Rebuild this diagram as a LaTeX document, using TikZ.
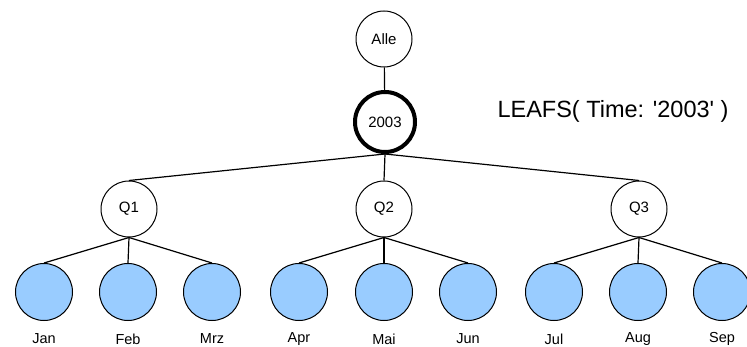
\documentclass[tikz,border=0pt]{standalone}
\usepackage{fontspec}
\setmainfont{Liberation Sans}
\definecolor{leafblue}{RGB}{153,204,255}
\begin{document}
\begin{tikzpicture}[x=1pt,y=-1pt,
  level/.style={circle,draw,line width=1pt,minimum size=56pt,inner sep=0pt,
    font=\fontsize{15}{17}\selectfont},
  focus/.style={level,line width=4pt,minimum size=60pt},
  leaf/.style={circle,draw,line width=1pt,fill=leafblue,minimum size=57pt,inner sep=0pt},
  leaflabel/.style={font=\fontsize{14.5}{16}\selectfont},
  edge/.style={line width=1.2pt}]
\useasboundingbox[fill=white] (0,0) rectangle (747,347);

% hierarchy nodes
\node[level] (alle) at (384,39) {Alle};
\node[focus] (y2003) at (385,122) {2003};
\node[level] (q1) at (129,209) {Q1};
\node[level] (q2) at (384,209) {Q2};
\node[level] (q3) at (639,209) {Q3};

% month leaves
\foreach \name/\x in {jan/44,feb/128,mrz/212,apr/299,mai/384,jun/468,jul/554,aug/638,sep/722}
  \node[leaf] (\name) at (\x,292) {};

% month labels
\foreach \name/\txt in {jan/Jan,feb/Feb,mrz/Mrz,apr/Apr,mai/Mai,jun/Jun,jul/Jul,aug/Aug,sep/Sep}
  \node[leaflabel] (\name-lbl) at ([yshift=-47pt]\name.center) {\txt};

% connectors
\draw[edge] (alle) -- (y2003);
\foreach \q in {q1,q2,q3}
  \draw[edge] (y2003.south) -- (\q.north);
\foreach \q/\a/\b/\c in {q1/jan/feb/mrz,q2/apr/mai/jun,q3/jul/aug/sep}
  \foreach \m in {\a,\b,\c}
    \draw[edge] (\q.south) -- (\m.north);

% caption of the selection
\node[anchor=west,font=\fontsize{23.5}{27}\selectfont] (caption) at (494,111)
  {LEAFS( Time: \textquotesingle 2003\textquotesingle\ )};
\end{tikzpicture}
\end{document}
